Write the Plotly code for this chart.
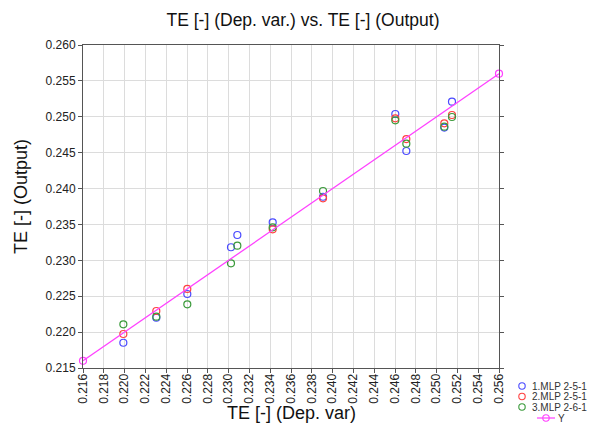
import plotly.graph_objects as go

# Observed (dependent variable) values on the x axis
dep_var = [0.21988, 0.22305, 0.22603, 0.23023, 0.23084, 0.23424,
           0.23908, 0.24603, 0.24709, 0.25074, 0.25148]

# Network outputs for each model
mlp1_out = [0.21852, 0.22201, 0.22531, 0.23182, 0.23353, 0.23530,
            0.23886, 0.25039, 0.24523, 0.24850, 0.25210]
mlp2_out = [0.21974, 0.22294, 0.22601, None, None, 0.23432,
            0.23864, 0.24979, 0.24690, 0.24909, 0.25025]
mlp3_out = [0.22109, 0.22215, 0.22387, 0.22959, 0.23204, 0.23460,
            0.23966, 0.24951, 0.24625, 0.24862, 0.24997]

series_names = ["1.MLP 2-5-1", "2.MLP 2-5-1", "3.MLP 2-6-1"]
series_colors = ["#4a4aff", "#ff4040", "#3a9a3a"]
line_name = "Y"
line_color = "#ff40ff"

# Reference line Y = X
ref_x = [0.216, 0.256]
ref_y = [0.216, 0.256]

x_ticks = [round(0.216 + 0.002 * i, 3) for i in range(21)]
y_ticks = [round(0.215 + 0.005 * i, 3) for i in range(10)]

FONT = "Liberation Sans, Arial, sans-serif"

# Plot area in pixels (left, right, top, bottom)
W, H = 589, 439
L, R, T, B = 83, 499, 45, 368


def px(x):
    return (x - L) / (R - L)


def py(y):
    return (B - y) / (B - T)


fig = go.Figure()
for name, ys, col in zip(series_names, [mlp1_out, mlp2_out, mlp3_out], series_colors):
    fig.add_trace(go.Scatter(
        x=dep_var, y=ys, mode="markers", name=name,
        marker=dict(symbol="circle-open", size=7, color=col, line=dict(width=1.2)),
    ))

fig.add_trace(go.Scatter(
    x=ref_x, y=ref_y, mode="lines+markers", name=line_name,
    line=dict(color=line_color, width=1.3),
    marker=dict(symbol="circle-open", size=7, color=line_color, line=dict(width=1.2)),
    cliponaxis=False,
))

# Compact legend in the lower-right corner
shapes = []
annotations = []
row_y = [386, 396.5, 407, 418]
for yy, name, col in zip(row_y[:3], series_names, series_colors):
    shapes.append(dict(type="circle", xref="paper", yref="paper",
                       xsizemode="pixel", ysizemode="pixel",
                       xanchor=px(522), yanchor=py(yy),
                       x0=-3.2, x1=3.2, y0=-3.2, y1=3.2,
                       line=dict(color=col, width=1.1)))
    annotations.append(dict(text=name, xref="paper", yref="paper",
                            x=px(530), y=py(yy), xanchor="left", yanchor="middle",
                            showarrow=False, font=dict(size=10, color="#333333")))
shapes.append(dict(type="line", xref="paper", yref="paper",
                   x0=px(537), x1=px(555), y0=py(row_y[3]), y1=py(row_y[3]),
                   line=dict(color=line_color, width=1.2)))
shapes.append(dict(type="circle", xref="paper", yref="paper",
                   xsizemode="pixel", ysizemode="pixel",
                   xanchor=px(546), yanchor=py(row_y[3]),
                   x0=-3.2, x1=3.2, y0=-3.2, y1=3.2,
                   line=dict(color=line_color, width=1.1)))
annotations.append(dict(text=line_name, xref="paper", yref="paper",
                        x=px(556), y=py(row_y[3]), xanchor="left", yanchor="middle",
                        showarrow=False, font=dict(size=10, color="#333333")))

# Axis titles
annotations.append(dict(text="TE [-] (Dep. var)", xref="paper", yref="paper",
                        x=px(291), y=py(413), xanchor="center", yanchor="middle",
                        showarrow=False, font=dict(size=18, color="#111111")))
annotations.append(dict(text="TE [-] (Output)", xref="paper", yref="paper",
                        x=px(21), y=py(197), xanchor="center", yanchor="middle",
                        textangle=-90, showarrow=False,
                        font=dict(size=18, color="#111111")))

fig.update_layout(
    width=W, height=H,
    margin=dict(l=L, r=W - R, t=T, b=H - B, autoexpand=False),
    paper_bgcolor="white", plot_bgcolor="white",
    font=dict(family=FONT, size=12, color="#222222"),
    title=dict(text="TE [-] (Dep. var.) vs. TE [-] (Output)",
               x=303 / W, xanchor="center", y=1 - 20 / H, yanchor="middle",
               font=dict(size=17.5, color="#111111")),
    showlegend=False,
    shapes=shapes,
    annotations=annotations,
)

fig.update_xaxes(
    range=[0.216, 0.256], tickvals=x_ticks, ticktext=[f"{v:.3f}" for v in x_ticks],
    tickangle=-90, ticks="outside", ticklen=4, tickcolor="#555555",
    ticklabelstandoff=-4,
    showgrid=True, gridcolor="#dcdcdc", gridwidth=1,
    showline=True, linecolor="#555555", linewidth=1, mirror=True,
    zeroline=False,
)
fig.update_yaxes(
    range=[0.215, 0.260], tickvals=y_ticks, ticktext=[f"{v:.3f}" for v in y_ticks],
    ticks="outside", ticklen=4, tickcolor="#555555",
    showgrid=True, gridcolor="#dcdcdc", gridwidth=1,
    showline=True, linecolor="#555555", linewidth=1, mirror="ticks",
    zeroline=False,
)

fig.write_html("out.html")
